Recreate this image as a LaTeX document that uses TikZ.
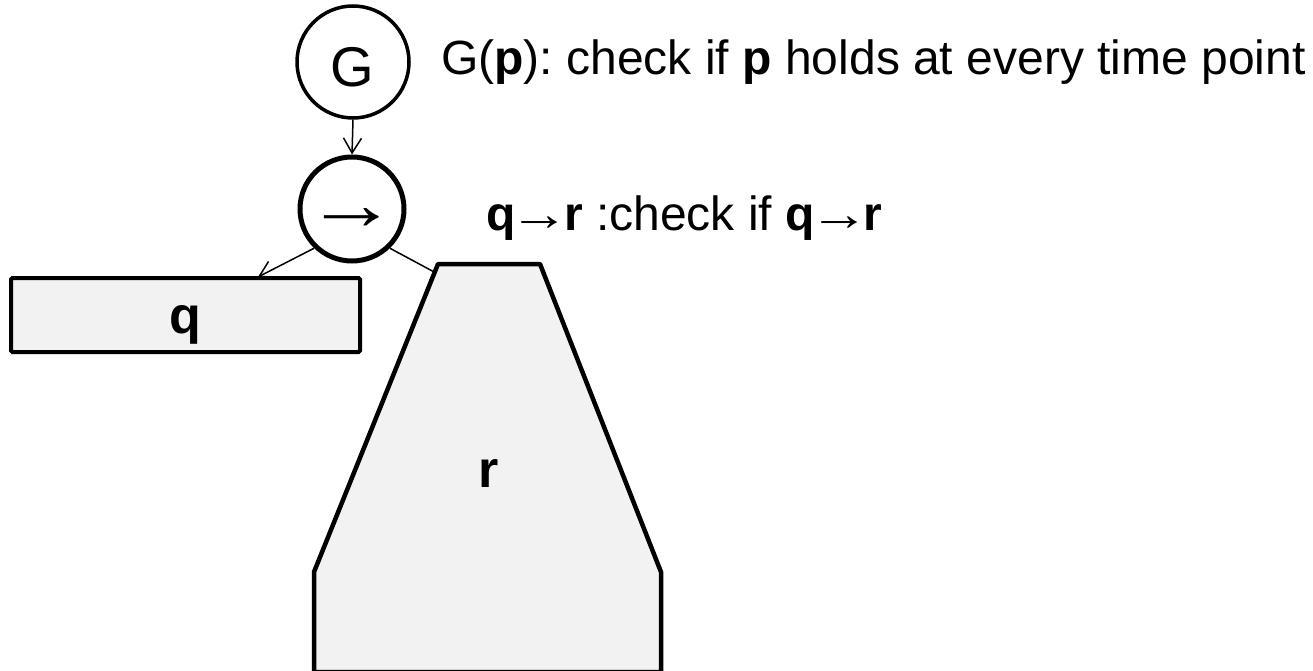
\documentclass[tikz,border=0pt]{standalone}
\usepackage{fontspec}
\usepackage{graphicx}
\setmainfont{Liberation Sans}
\usetikzlibrary{arrows.meta}
\definecolor{shapegray}{HTML}{F2F2F2}
\newcommand{\widearrow}{\kern-0.12em\scalebox{1.25}[1]{→}\kern-0.12em}
\begin{document}
\frenchspacing
\begin{tikzpicture}[x=1pt,y=-1pt,
  ring/.style={circle,draw,inner sep=0pt},
  conn/.style={line width=1.5pt,-{Straight Barb[length=15pt,width=18pt,line width=1.5pt]}},
  plainconn/.style={line width=1.5pt},
  shapefill/.style={draw,line width=4.5pt,fill=shapegray,line join=round},
  lbl/.style={anchor=base west,inner sep=0pt,font=\fontsize{48}{56}\selectfont},
  big/.style={inner sep=0pt,font=\fontsize{52}{60}\selectfont\bfseries}]
\useasboundingbox (0,0) rectangle (1313,671);
% circles
\node[ring,line width=3.5pt,minimum size=112pt] (g) at (353,62) {};
\node[inner sep=0pt,font=\fontsize{56}{64}\selectfont] (gt) at (352,67) {G};
\node[ring,line width=5pt,minimum size=104pt] (imp) at (352,209) {};
\node[inner sep=0pt,font=\fontsize{74}{80}\selectfont] (impt) at (352,219) {\scalebox{1.25}[1]{→}};
% connectors
\draw[conn] (g.south) -- (imp.north);
\coordinate (qtip) at (258,277);
\draw[conn] (imp.-134) -- (qtip);
\coordinate (tin) at (436,273);
\draw[plainconn] (imp.-46) -- (tin);
% q box
\node[draw,line width=4pt,fill=shapegray,rounded corners=1.5pt,minimum width=349pt,minimum height=74pt,inner sep=0pt] (qbox) at (185.5,315) {};
\node[big] (qt) at (185,325) {q};
% r trapezoid
\coordinate (tl) at (438,264);
\coordinate (tr) at (540,264);
\coordinate (rk) at (661,572);
\coordinate (rb) at (661,672);
\coordinate (lb) at (314,672);
\coordinate (lk) at (314,572);
\draw[shapefill] (tl) -- (tr) -- (rk) -- (rb) -- (lb) -- (lk) -- cycle;
\node[big] (rt) at (489,473.5) {r};
% labels
\node[lbl] (l1) at (441,75) {G(\textbf{p}): check if \textbf{p} holds at every time point};
\node[lbl] (l2) at (486,230) {\textbf{q}\widearrow\textbf{r} :check if \textbf{q}\widearrow\textbf{r}};
\end{tikzpicture}
\end{document}
